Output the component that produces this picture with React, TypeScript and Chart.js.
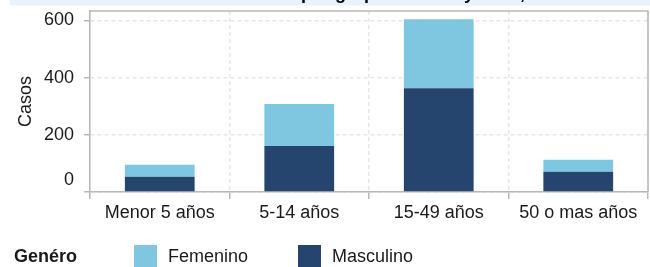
import React, { useEffect, useRef } from "react";
import { Chart, registerables } from "chart.js";

Chart.register(...registerables);

const categories = ["Menor 5 años", "5-14 años", "15-49 años", "50 o mas años"];
const femenino = [42, 147, 241, 42];
const masculino = [53, 161, 363, 71];
const yTicks = [0, 200, 400, 600];
const yMax = 633;
const seriesLabels = ["Femenino", "Masculino"];
const seriesColors = ["#7fc7e1", "#25456e"];
const legendTitle = "Genéro";
const yTitle = "Casos";
const chartTitle = "Casos por grupo de edad y sexo, 2023";

const FONT = "'Liberation Sans', Arial, Helvetica, sans-serif";
const FRAME = "#b8b8b8";
const GRID = "#e6e6e6";

const overlay = {
  id: "overlay",
  afterDraw(chart: any) {
    const ctx = chart.ctx;
    const area = chart.chartArea;
    const y = chart.scales.y;
    ctx.save();
    // title band (clipped at top)
    ctx.fillStyle = "#eaf2fd";
    ctx.fillRect(10, 0, 640, 5.5);
    ctx.fillStyle = "#000";
    ctx.font = `bold 18px ${FONT}`;
    ctx.textBaseline = "alphabetic";
    ctx.textAlign = "left";
    ctx.fillText(chartTitle, 242, -1.5);

    // frame top and right
    ctx.strokeStyle = FRAME;
    ctx.lineWidth = 1.5;
    ctx.beginPath();
    ctx.moveTo(area.left, area.top);
    ctx.lineTo(area.right, area.top);
    ctx.lineTo(area.right, area.bottom);
    ctx.stroke();

    // y tick labels
    ctx.fillStyle = "#1a1a1a";
    ctx.font = `18px ${FONT}`;
    ctx.textAlign = "right";
    ctx.textBaseline = "middle";
    yTicks.forEach((v) => {
      const py = y.getPixelForValue(v) + (v === 0 ? -12 : 0);
      ctx.fillText(String(v), 74, py);
    });

    // y title
    ctx.save();
    ctx.translate(26, (area.top + area.bottom) / 2);
    ctx.rotate(-Math.PI / 2);
    ctx.textAlign = "center";
    ctx.textBaseline = "middle";
    ctx.fillText(yTitle, 0, 0);
    ctx.restore();

    // legend
    ctx.textAlign = "left";
    ctx.textBaseline = "middle";
    ctx.font = `bold 18px ${FONT}`;
    ctx.fillStyle = "#1a1a1a";
    ctx.fillText(legendTitle, 14, 257);
    const swX = [134, 298];
    ctx.font = `18px ${FONT}`;
    seriesLabels.forEach((lab, i) => {
      ctx.fillStyle = seriesColors[i];
      ctx.fillRect(swX[i], 245, 23, 22);
      ctx.fillStyle = "#1a1a1a";
      ctx.fillText(lab, swX[i] + 34, 257);
    });
    ctx.restore();
  },
};

export default function App() {
  const ref = useRef<HTMLCanvasElement | null>(null);
  useEffect(() => {
    if (!ref.current) return;
    const chart = new Chart(ref.current, {
      type: "bar",
      data: {
        labels: categories,
        datasets: [
          {
            label: seriesLabels[1],
            data: masculino,
            backgroundColor: seriesColors[1],
            categoryPercentage: 1,
            barPercentage: 0.5,
          },
          {
            label: seriesLabels[0],
            data: femenino,
            backgroundColor: seriesColors[0],
            categoryPercentage: 1,
            barPercentage: 0.5,
          },
        ],
      },
      options: {
        animation: false,
        responsive: false,
        devicePixelRatio: 1,
        layout: { padding: { left: 0, right: 2, top: 11, bottom: 45 } },
        plugins: { legend: { display: false }, tooltip: { enabled: false }, title: { display: false } },
        scales: {
          x: {
            stacked: true,
            grid: { offset: true, color: GRID, lineWidth: 1.5, tickLength: 7, tickColor: FRAME, tickWidth: 1.5 },
            border: { display: true, color: FRAME, width: 1.5, dash: [4, 3] },
            ticks: { color: "#1a1a1a", font: { family: FONT, size: 18 }, padding: 3, maxRotation: 0, autoSkip: false },
            afterFit: (s: any) => { s.height = 30; },
          },
          y: {
            stacked: true,
            min: 0,
            max: yMax,
            afterBuildTicks: (s: any) => { s.ticks = yTicks.map((v) => ({ value: v })); },
            ticks: { display: false },
            grid: { color: GRID, lineWidth: 1.5, tickLength: 6, tickColor: FRAME, tickWidth: 1.5 },
            border: { display: true, color: FRAME, width: 1.5, dash: [4, 3] },
            afterFit: (s: any) => { s.width = 90; },
          },
        },
      },
      plugins: [overlay],
    });
    return () => chart.destroy();
  }, []);
  return (
    <div style={{ position: "fixed", left: 0, top: 0, width: 650, height: 267, background: "#fff" }}>
      <canvas ref={ref} width={650} height={267} style={{ display: "block" }} />
    </div>
  );
}
